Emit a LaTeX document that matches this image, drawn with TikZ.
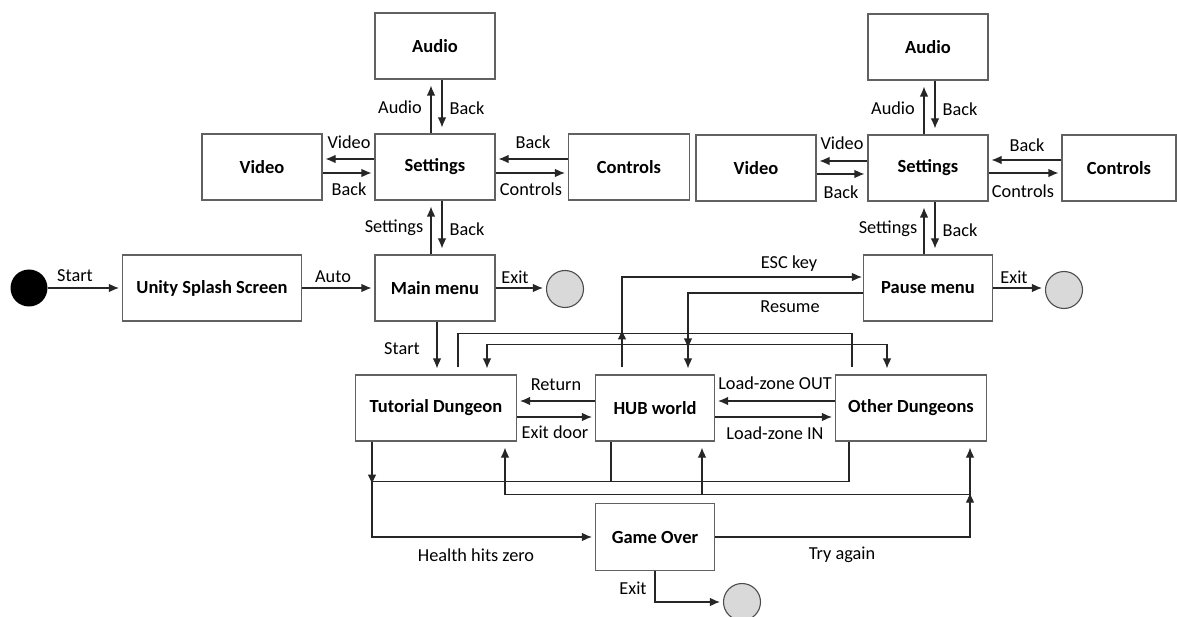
\documentclass[tikz,border=0pt]{standalone}
\usepackage{fontspec}
\setmainfont{Carlito}
\usetikzlibrary{arrows.meta,calc}
\begin{document}
\begin{tikzpicture}[x=1pt,y=-1pt,
  box/.style={draw=black!62,line width=1.1pt,minimum height=66pt,inner sep=0pt,fill=white,
    font=\fontsize{18.5}{22}\selectfont\bfseries},
  lbl/.style={inner sep=0pt,font=\fontsize{18.3}{22}\selectfont},
  arr/.style={draw=black!85,line width=1.1pt,-{Latex[length=10pt,width=8.5pt]},shorten >=3pt},
  varr/.style={arr,shorten >=6pt},
  jtip/.style={draw=black!85,line width=1.1pt,-{Latex[length=10pt,width=8.5pt]}},
  ln/.style={draw=black!85,line width=1.1pt},
  endc/.style={circle,draw=black!70,line width=1.1pt,fill=black!15,minimum size=37pt,inner sep=0pt}]
\useasboundingbox (0,0) rectangle (1177,617);

% ---- nodes ----
\node[circle,fill=black,minimum size=37pt,inner sep=0pt] (startc) at (29,288) {};
\node[box,minimum width=179pt] (unity) at (212,288) {Unity Splash Screen};
\node[box,minimum width=120pt] (mainm) at (435,288) {Main menu};
\node[endc] (exit1) at (565,289) {};
\node[box,minimum width=120pt] (set1) at (435,167) {Settings};
\node[box,minimum width=120pt] (aud1) at (435,46) {Audio};
\node[box,minimum width=120pt] (vid1) at (262,167) {Video};
\node[box,minimum width=121pt] (con1) at (629,167) {Controls};

\node[box,minimum width=120pt] (set2) at (928,168) {Settings};
\node[box,minimum width=120pt] (aud2) at (928,47) {Audio};
\node[box,minimum width=120pt] (vid2) at (756,168) {Video};
\node[box,minimum width=114pt] (con2) at (1119,168) {Controls};
\node[box,minimum width=129pt] (pause) at (928,288) {Pause menu};
\node[endc] (exit2) at (1064,290) {};

\node[box,minimum width=161pt] (tut) at (436,408) {Tutorial Dungeon};
\node[box,minimum width=119pt] (hub) at (655,408) {HUB world};
\node[box,minimum width=151pt] (oth) at (911,408) {Other Dungeons};
\node[box,minimum width=119pt,minimum height=67pt] (gover) at (655,537) {Game Over};
\node[endc] (exit3) at (742,602) {};

% ---- junction coordinates ----
\coordinate (escj) at ([xshift=-33pt,yshift=41pt]hub.north);
\coordinate (rj) at ([xshift=33pt,yshift=30pt]hub.north);
\coordinate (hjunc) at ([xshift=-64pt,yshift=-40pt]tut.south);
\coordinate (tjunc) at ([xshift=59pt,yshift=-53pt]oth.south);
\coordinate (hubx) at ([xshift=47pt]hub.south);

% ---- main flow ----
\draw[arr] (startc.east) -- (startc.east -| unity.west);
\draw[arr] (unity.east) -- (mainm.west);
\draw[arr] (mainm.east) -- (mainm.east -| exit1.west);
\draw[varr] ([xshift=2pt]mainm.south) -- ([xshift=1pt]tut.north);

% ---- left settings cluster ----
\draw[varr] ([xshift=-4pt]mainm.north) -- ([xshift=-4pt]set1.south);
\draw[varr] ([xshift=7pt]set1.south) -- ([xshift=7pt]mainm.north);
\draw[varr] ([xshift=-4pt]set1.north) -- ([xshift=-4pt]aud1.south);
\draw[varr] ([xshift=7pt]aud1.south) -- ([xshift=7pt]set1.north);
\draw[arr] ([yshift=8pt]set1.west) -- ([yshift=8pt]vid1.east);
\draw[arr] ([yshift=-6pt]vid1.east) -- ([yshift=-6pt]set1.west);
\draw[arr] ([yshift=8pt]con1.west) -- ([yshift=8pt]set1.east);
\draw[arr] ([yshift=-6pt]set1.east) -- ([yshift=-6pt]con1.west);

% ---- right settings cluster ----
\draw[varr] ([xshift=-4pt]pause.north) -- ([xshift=-4pt]set2.south);
\draw[varr] ([xshift=7pt]set2.south) -- ([xshift=7pt]pause.north);
\draw[varr] ([xshift=-4pt]set2.north) -- ([xshift=-4pt]aud2.south);
\draw[varr] ([xshift=7pt]aud2.south) -- ([xshift=7pt]set2.north);
\draw[arr] ([yshift=7pt]set2.west) -- ([yshift=7pt]vid2.east);
\draw[arr] ([yshift=-6pt]vid2.east) -- ([yshift=-6pt]set2.west);
\draw[arr] ([yshift=8pt]con2.west) -- ([yshift=8pt]set2.east);
\draw[arr] ([yshift=-5pt]set2.east) -- ([yshift=-5pt]con2.west);
\draw[arr] (pause.east) -- (pause.east -| exit2.west);

% ---- dungeon row ----
\draw[arr] ([yshift=7pt]hub.west) -- ([yshift=7pt]tut.east);
\draw[arr] ([yshift=-9pt]tut.east) -- ([yshift=-9pt]hub.west);
\draw[arr] ([yshift=7pt]oth.west) -- ([yshift=7pt]hub.east);
\draw[arr] ([yshift=-9pt]hub.east) -- ([yshift=-9pt]oth.west);

% ---- ESC key ----
\draw[arr,shorten >=1pt] ([xshift=-33pt,yshift=7pt]hub.north) |- ([yshift=11pt]pause.west);
\draw[ln] ([xshift=22pt,yshift=7pt]tut.north) |- ([xshift=-59pt,yshift=41pt]oth.north)
  -- ([xshift=-59pt,yshift=7pt]oth.north);
\draw[jtip] ([yshift=-6pt]escj) -- ([yshift=4pt]escj);

% ---- Resume ----
\draw[varr] ([yshift=-5pt]pause.west) -| ([xshift=33pt]hub.north);
\draw[varr] (rj) -| ([xshift=51pt]tut.north);
\draw[varr] (rj) -| ([xshift=-24pt]oth.north);
\draw[jtip] ([yshift=6pt]rj) -- ([yshift=-4pt]rj);

% ---- health hits zero ----
\draw[arr] ([xshift=-64pt]tut.south) |- (gover.west);
\draw[ln] ([xshift=-44pt]hub.south) |- (hjunc);
\draw[ln] ([xshift=-62pt]oth.south) |- (hjunc);
\draw[jtip] ([yshift=6pt]hjunc) -- ([yshift=-3pt]hjunc);

% ---- try again ----
\draw[varr] (gover.east) -| ([xshift=59pt]oth.south);
\draw[varr] (tjunc) -| ([xshift=69pt]tut.south);
\draw[varr] (tjunc -| hubx) -- (hubx);
\draw[jtip] ([yshift=-7pt]tjunc) -- ([yshift=2pt]tjunc);

% ---- game over exit ----
\draw[arr] (gover.south) |- (exit3.west);

% ---- labels ----
\node[lbl] (l1) at (75,276) {Start};
\node[lbl] (l2) at (333,277) {Auto};
\node[lbl] (l3) at (515,277) {Exit};
\node[lbl] (l4) at (402,349) {Start};
\node[lbl] (l5) at (400,107) {Audio};
\node[lbl] (l6) at (467,108) {Back};
\node[lbl] (l7) at (349,142) {Video};
\node[lbl] (l8) at (349,189) {Back};
\node[lbl] (l9) at (533,142) {Back};
\node[lbl] (l10) at (531,189) {Controls};
\node[lbl] (l11) at (394,228) {Settings};
\node[lbl] (l12) at (467,229) {Back};

\node[lbl] (r1) at (893,108) {Audio};
\node[lbl] (r2) at (960,109) {Back};
\node[lbl] (r3) at (842,143) {Video};
\node[lbl] (r4) at (841,192) {Back};
\node[lbl] (r5) at (1027,145) {Back};
\node[lbl] (r6) at (1023,191) {Controls};
\node[lbl] (r7) at (888,229) {Settings};
\node[lbl] (r8) at (960,230) {Back};
\node[lbl] (r9) at (1014,277) {Exit};
\node[lbl] (r10) at (789,264) {ESC key};
\node[lbl] (r11) at (790,307) {Resume};

\node[lbl] (m1) at (556,385) {Return};
\node[lbl] (m2) at (555,432) {Exit door};
\node[lbl] (m3) at (775,383) {Load-zone OUT};
\node[lbl] (m4) at (775,433) {Load-zone IN};

\node[lbl] (b1) at (476,555) {Health hits zero};
\node[lbl] (b2) at (842,555) {Try again};
\node[lbl] (b3) at (633,588) {Exit};
\end{tikzpicture}
\end{document}
